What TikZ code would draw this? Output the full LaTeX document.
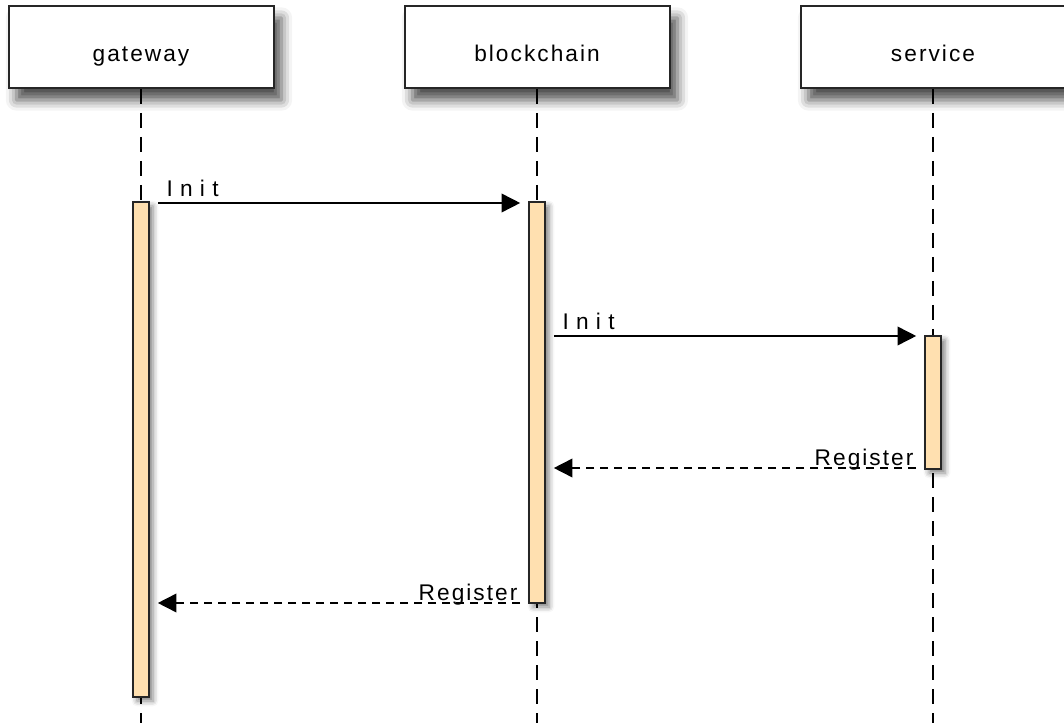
\documentclass[tikz,border=0pt]{standalone}
\usepackage{fontspec}
\setmainfont{Liberation Sans}[LetterSpace=9]
\newfontfamily\wide{Liberation Sans}[LetterSpace=32]
\usetikzlibrary{positioning, arrows.meta, shadows.blur, calc}
\definecolor{barfill}{HTML}{FFE0B0}
\def\px{0.75pt}

\tikzset{
  actor/.style={draw=black!85, line width=1.5pt, fill=white,
    minimum width=265*\px, minimum height=82*\px,
    text height=22pt, text depth=0pt,
    blur shadow={shadow xshift=6pt, shadow yshift=-9pt, shadow blur radius=8pt, shadow opacity=70},
    font=\fontsize{17}{20}\selectfont},
  bar/.style={draw=black!85, line width=1.2pt, fill=barfill, minimum width=16*\px,
    blur shadow={shadow xshift=3pt, shadow yshift=-3pt, shadow blur radius=4pt, shadow opacity=50}},
  life/.style={line width=1.4pt, dash pattern=on 11pt off 7pt},
  msg/.style={line width=1.2pt, -{Triangle[length=14pt, width=14pt]},
    shorten >=6pt, shorten <=6pt},
  reply/.style={msg, dash pattern=on 6pt off 4.5pt},
  lbl/.style={inner sep=0pt, font=\fontsize{17}{20}\selectfont}
}

\begin{document}
\begin{tikzpicture}[x=\px, y=-\px]
    \useasboundingbox (0,0) rectangle (1064,723);
    % Participantes
    \node[actor] (gateway) at (141,47) {gateway};
    \node[actor] (blockchain) at (537,47) {blockchain};
    \node[actor] (service) at (933,47) {service};
    % Linhas de vida
    \coordinate (bottom) at (0,723);
    \foreach \n in {gateway, blockchain, service}
      \draw[life] (\n.south) -- (\n.south |- bottom);
    % Barras de ativação
    \node[bar, minimum height=495*\px] (gwbar) at (141,449.5) {};
    \node[bar, minimum height=401*\px] (bcbar) at (537,402.5) {};
    \node[bar, minimum height=133*\px] (svbar) at (933,402.5) {};
    % Mensagens
    \coordinate (m1) at (0,203);
    \coordinate (m2) at (0,336);
    \coordinate (m3) at (0,468);
    \coordinate (m4) at (0,603);
    \draw[msg] (gwbar.east |- m1) -- (bcbar.west |- m1)
      node[lbl, pos=0, anchor=base west, xshift=12pt, yshift=4.5pt] {\wide Init};
    \draw[msg] (bcbar.east |- m2) -- (svbar.west |- m2)
      node[lbl, pos=0, anchor=base west, xshift=12pt, yshift=4.5pt] {\wide Init};
    \draw[reply] (svbar.west |- m3) -- (bcbar.east |- m3)
      node[lbl, pos=0, anchor=base east, xshift=-7.5pt, yshift=2.25pt] {Register};
    \draw[reply] (bcbar.west |- m4) -- (gwbar.east |- m4)
      node[lbl, pos=0, anchor=base east, xshift=-7.5pt, yshift=2.25pt] {Register};
\end{tikzpicture}
\end{document}
